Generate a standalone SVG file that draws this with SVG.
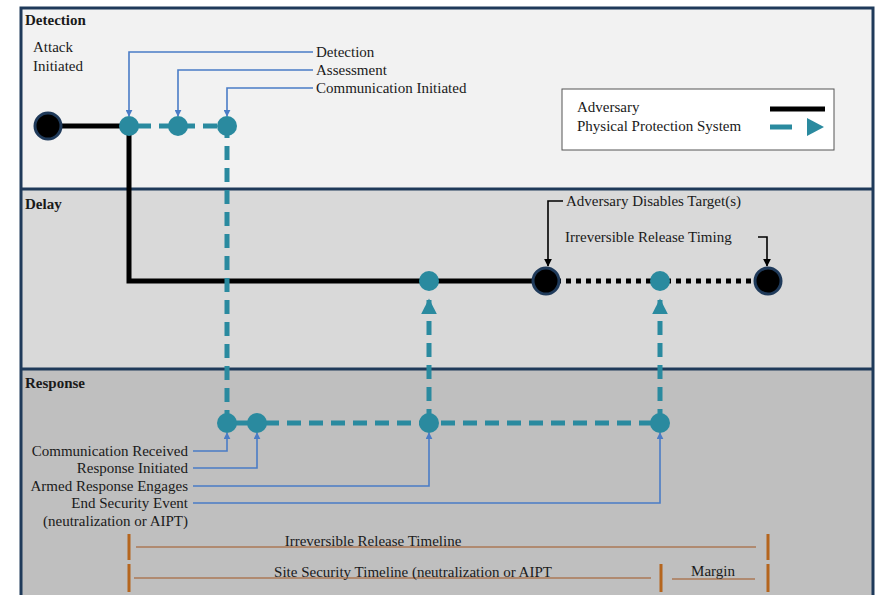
<svg xmlns="http://www.w3.org/2000/svg" width="875" height="595" viewBox="0 0 875 595">
<defs>
<style>
text{font-family:"Liberation Serif","Times New Roman",serif;font-size:15px;fill:#1a1a1a}
.lane{font-weight:bold}
.teal{fill:#2a8a9f}
.adv{fill:#000;stroke:#1f3a5a;stroke-width:3}
.ppsd{stroke:#2a8a9f;stroke-width:5;fill:none;stroke-dasharray:14 8}
.black{stroke:#000;stroke-width:5;fill:none}
.blue{stroke:#4a7cc6;stroke-width:1.6;fill:none}
.blk{stroke:#000;stroke-width:1.6;fill:none}
.tl{stroke:#b08a70;stroke-width:2}
.bar{stroke:#b5651d;stroke-width:3}
</style>
<marker id="ab" viewBox="0 0 10 10" refX="9" refY="5" markerWidth="7" markerHeight="7" markerUnits="userSpaceOnUse" orient="auto"><path d="M0,0 L10,5 L0,10 z" fill="#4a7cc6"/></marker>
<marker id="ak" viewBox="0 0 10 10" refX="9" refY="5" markerWidth="8" markerHeight="8" markerUnits="userSpaceOnUse" orient="auto"><path d="M0,0 L10,5 L0,10 z" fill="#000"/></marker>
<marker id="at" viewBox="0 0 10 10" refX="9" refY="5" markerWidth="16" markerHeight="16" markerUnits="userSpaceOnUse" orient="auto"><path d="M0,0 L10,5 L0,10 z" fill="#2a8a9f"/></marker>
</defs>
<g id="lanes">
<rect x="21" y="8" width="852" height="181" fill="#f2f2f2"/>
<rect x="21" y="189" width="852" height="180" fill="#d9d9d9"/>
<rect x="21" y="369" width="852" height="226" fill="#bfbfbf"/>
<path d="M21,595 V8 H873 V595 M21,189 H873 M21,369 H873" fill="none" stroke="#1f3a5a" stroke-width="3"/>
<text class="lane" x="25" y="25">Detection</text>
<text class="lane" x="25" y="209">Delay</text>
<text class="lane" x="25" y="388">Response</text>
</g>
<g id="connectors">
<path class="black" d="M48,126 H129 V281 H546"/>
<path d="M546,281 H768" stroke="#000" stroke-width="5" stroke-dasharray="5 5" fill="none"/>
<path class="ppsd" d="M137,126 H227 V423"/>
<path d="M227,423 H257" stroke="#2a8a9f" stroke-width="5"/>
<path class="ppsd" d="M265,423 H660"/>
<path class="ppsd" d="M429,423 V300" marker-end="url(#at)"/>
<path class="ppsd" d="M660,423 V300" marker-end="url(#at)"/>
<path class="blue" d="M313,52 H129 V116" marker-end="url(#ab)"/>
<path class="blue" d="M313,70 H178 V116" marker-end="url(#ab)"/>
<path class="blue" d="M313,88 H227 V116" marker-end="url(#ab)"/>
<path class="blue" d="M193,451 H227 V433" marker-end="url(#ab)"/>
<path class="blue" d="M193,468 H257 V433" marker-end="url(#ab)"/>
<path class="blue" d="M193,486 H429 V433" marker-end="url(#ab)"/>
<path class="blue" d="M193,503 H660 V433" marker-end="url(#ab)"/>
<path class="blk" d="M563,201 H548 V266" marker-end="url(#ak)"/>
<path class="blk" d="M758,237 H767 V266" marker-end="url(#ak)"/>
</g>
<g id="attack"><circle class="adv" cx="48" cy="126" r="13"/><text x="33" y="52">Attack</text><text x="33" y="71">Initiated</text></g>
<g id="detection"><circle class="teal" cx="129" cy="126" r="10"/><text x="316" y="57">Detection</text></g>
<g id="assessment"><circle class="teal" cx="178" cy="126" r="10"/><text x="316" y="75">Assessment</text></g>
<g id="comm-initiated"><circle class="teal" cx="227" cy="126" r="10"/><text x="316" y="93">Communication Initiated</text></g>
<g id="disables"><circle class="adv" cx="546" cy="281" r="13"/><text x="566" y="206">Adversary Disables Target(s)</text></g>
<g id="release"><circle class="adv" cx="768" cy="281" r="13"/><text x="565" y="242">Irreversible Release Timing</text></g>
<g id="delay-armed"><circle class="teal" cx="429" cy="281" r="10"/></g>
<g id="delay-end"><circle class="teal" cx="660" cy="281" r="10"/></g>
<g id="comm-received"><circle class="teal" cx="227" cy="423" r="10"/><text x="188" y="456" text-anchor="end">Communication Received</text></g>
<g id="response-initiated"><circle class="teal" cx="257" cy="423" r="10"/><text x="188" y="473" text-anchor="end">Response Initiated</text></g>
<g id="armed-response"><circle class="teal" cx="429" cy="423" r="10"/><text x="188" y="491" text-anchor="end">Armed Response Engages</text></g>
<g id="end-event"><circle class="teal" cx="660" cy="423" r="10"/><text x="188" y="508" text-anchor="end">End Security Event</text><text x="188" y="526" text-anchor="end">(neutralization or AIPT)</text></g>
<g id="legend">
<rect x="562" y="89" width="272" height="61" fill="#fff" stroke="#555" stroke-width="1"/>
<text x="577" y="112">Adversary</text>
<text x="577" y="131">Physical Protection System</text>
<path d="M770,109 H825" stroke="#000" stroke-width="5"/>
<path d="M770,127 H792" stroke="#2a8a9f" stroke-width="5"/>
<path d="M807,118 L824,127 L807,136 z" fill="#2a8a9f"/>
</g>
<g id="timelines">
<path class="bar" d="M129,534 V560 M129,564 V592 M768,534 V560 M768,564 V592 M661,564 V592"/>
<path class="tl" d="M136,547 H756 M134,578 H651 M672,579 H755"/>
<text x="373" y="546" text-anchor="middle">Irreversible Release Timeline</text>
<text x="413" y="577" text-anchor="middle">Site Security Timeline (neutralization or AIPT</text>
<text x="713" y="576" text-anchor="middle">Margin</text>
</g>
</svg>
